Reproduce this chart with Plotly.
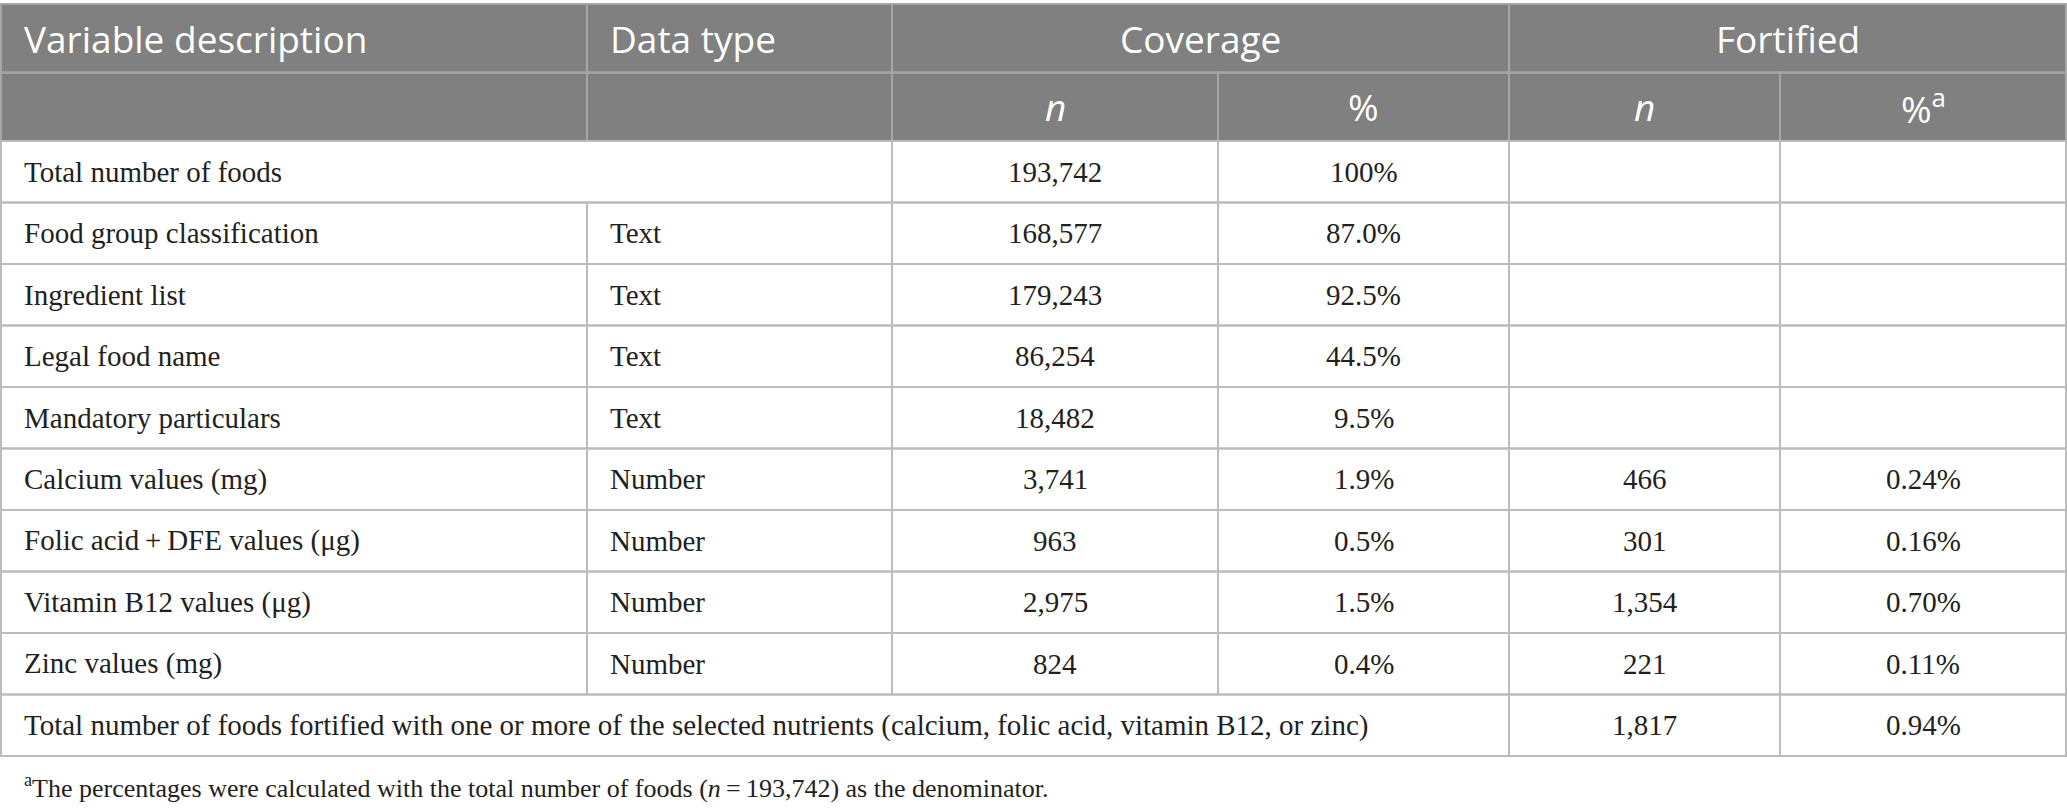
import plotly.graph_objects as go

# table content
header_top = ["Variable description", "Data type", "Coverage", "Fortified"]
header_sub = ["", "", "<i>n</i>", "%", "<i>n</i>", "%<sup>a</sup>"]

var_desc = ["Total number of foods", "Food group classification", "Ingredient list",
            "Legal food name", "Mandatory particulars", "Calcium values (mg)",
            "Folic acid\u2009+\u2009DFE values (\u03bcg)", "Vitamin B12 values (\u03bcg)",
            "Zinc values (mg)",
            "Total number of foods fortified with one or more of the selected nutrients (calcium, folic acid, vitamin B12, or zinc)"]
data_type = ["", "Text", "Text", "Text", "Text", "Number", "Number", "Number", "Number", ""]
cov_n = ["193,742", "168,577", "179,243", "86,254", "18,482", "3,741", "963", "2,975", "824", ""]
cov_pct = ["100%", "87.0%", "92.5%", "44.5%", "9.5%", "1.9%", "0.5%", "1.5%", "0.4%", ""]
fort_n = ["", "", "", "", "", "466", "301", "1,354", "221", "1,817"]
fort_pct = ["", "", "", "", "", "0.24%", "0.16%", "0.70%", "0.11%", "0.94%"]
# how many columns the first cell spans in each row
span = [2, 1, 1, 1, 1, 1, 1, 1, 1, 4]

footnote = ("<sup>a</sup>The percentages were calculated with the total number of foods "
            "(<i>n</i>\u2009=\u2009193,742) as the denominator.")

# layout (pixels of the window)
W, H = 2067, 808
col_x = [1, 587, 892, 1218, 1509, 1780, 2066]
top = 4
head_h = 68.5
row_h = 61.5
pad = 21

HEAD_BG = "#808080"
HEAD_LINE = "#a6a6a6"
BODY_LINE = "#bcbcbc"
TXT = "#231f20"

head_font = dict(family="Open Sans", size=37, color="white")
body_font = dict(family="Liberation Serif", size=29, color=TXT)

fig = go.Figure()
shapes = []
ann = []

y0 = top
y1 = top + head_h
y2 = top + 2 * head_h

# header background
shapes.append(dict(type="rect", x0=col_x[0], x1=col_x[-1], y0=y0, y1=y2,
                   fillcolor=HEAD_BG, line=dict(width=0), layer="below"))

# header row 1 cells: col0, col1, cols2-3, cols4-5
top_cells = [(0, 1), (1, 2), (2, 4), (4, 6)]
for (a, b), txt in zip(top_cells, header_top):
    shapes.append(dict(type="rect", x0=col_x[a], x1=col_x[b], y0=y0, y1=y1,
                       line=dict(color=HEAD_LINE, width=2)))
    if a < 2:
        ann.append(dict(x=col_x[a] + pad, y=(y0 + y1) / 2, text=txt, xanchor="left",
                        font=head_font))
    else:
        ann.append(dict(x=(col_x[a] + col_x[b]) / 2, y=(y0 + y1) / 2, text=txt,
                        xanchor="center", font=head_font))

# header row 2
for i, txt in enumerate(header_sub):
    shapes.append(dict(type="rect", x0=col_x[i], x1=col_x[i + 1], y0=y1, y1=y2,
                       line=dict(color=HEAD_LINE, width=2)))
    if txt:
        ann.append(dict(x=(col_x[i] + col_x[i + 1]) / 2, y=(y1 + y2) / 2, text=txt,
                        xanchor="center", font=head_font))

# body
for r in range(len(var_desc)):
    ya = y2 + r * row_h
    yb = ya + row_h
    ym = (ya + yb) / 2
    vals = [var_desc[r], data_type[r], cov_n[r], cov_pct[r], fort_n[r], fort_pct[r]]
    s = span[r]
    cells = [(0, s)] + [(c, c + 1) for c in range(s, 6)]
    for a, b in cells:
        shapes.append(dict(type="rect", x0=col_x[a], x1=col_x[b], y0=ya, y1=yb,
                           line=dict(color=BODY_LINE, width=2)))
        txt = vals[a]
        if not txt:
            continue
        if a < 2:
            ann.append(dict(x=col_x[a] + pad, y=ym, text=txt, xanchor="left",
                            font=body_font))
        else:
            ann.append(dict(x=(col_x[a] + col_x[b]) / 2, y=ym, text=txt,
                            xanchor="center", font=body_font))

y_end = y2 + len(var_desc) * row_h
ann.append(dict(x=col_x[0] + pad, y=y_end + 30, text=footnote, xanchor="left",
                font=dict(family="Liberation Serif", size=26, color=TXT)))

for a in ann:
    a.update(xref="x", yref="y", yanchor="middle", showarrow=False)
for s_ in shapes:
    s_.update(xref="x", yref="y")

fig.update_layout(
    width=W, height=H,
    margin=dict(l=0, r=0, t=0, b=0),
    paper_bgcolor="white", plot_bgcolor="white",
    xaxis=dict(range=[0, W], visible=False, fixedrange=True),
    yaxis=dict(range=[H, 0], visible=False, fixedrange=True),
    shapes=shapes, annotations=ann, showlegend=False,
)

# drop the default page margin so the table sits flush with the window
fig.write_html("out.html", config={"displayModeBar": False},
               post_script="document.body.style.margin='0';")
